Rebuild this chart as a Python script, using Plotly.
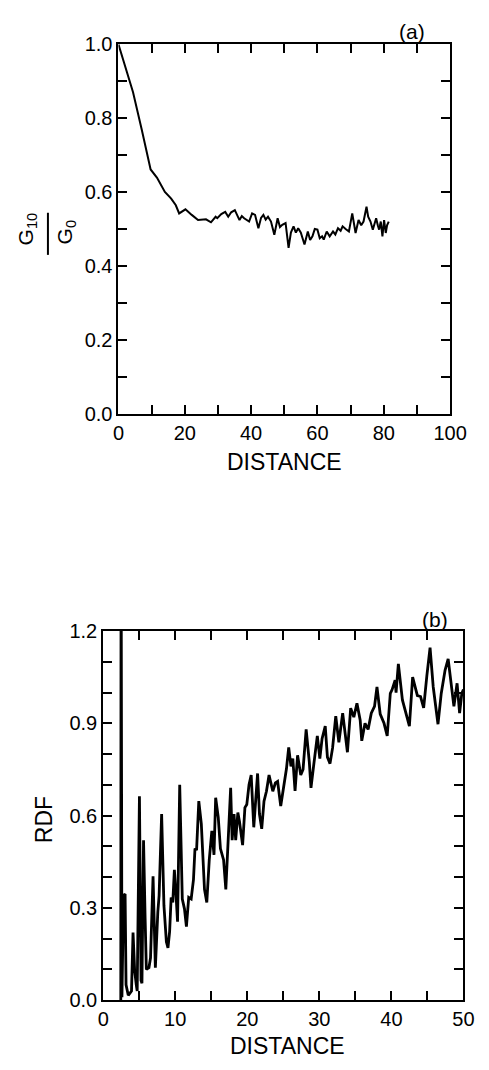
import plotly.graph_objects as go

W, H = 489, 1070

# ---- data: panel (a) ----
dist_a = [0, 2, 4.4, 7, 9.7, 11.6, 14.0, 15.9, 17.3, 18.3, 20.2, 22.1, 24.0, 26.4, 27.9,
          29.3, 29.8, 31, 32.2, 33.1, 34, 35.1, 36.5, 37.2, 37.9, 39.4, 40.3, 41.2, 42.2,
          43.0, 43.7, 44.4, 45.1, 46.0, 47.0, 48.0, 48.7, 49.4, 50.4, 51.3, 52.0, 52.8,
          53.5, 54.2, 55.0, 56.1, 57.1, 57.8, 58.5, 59.2, 60.0, 60.7, 61.4, 61.9, 62.8,
          63.7, 64.7, 65.4, 66.2, 67.0, 67.6, 68.5, 69.5, 70.5, 71.5, 72.4, 73.2, 73.9,
          74.8, 75.3, 76.0, 76.7, 77.7, 78.2, 78.6, 79.1, 79.6, 80.1, 80.6, 81.0, 81.5]
g_ratio = [1.0, 0.94, 0.87, 0.77, 0.661, 0.639, 0.600, 0.582, 0.564, 0.542, 0.553, 0.538,
           0.524, 0.526, 0.518, 0.533, 0.529, 0.54, 0.546, 0.533, 0.545, 0.551, 0.524, 0.535,
           0.529, 0.520, 0.542, 0.538, 0.502, 0.53, 0.538, 0.525, 0.533, 0.52, 0.484, 0.529,
           0.505, 0.511, 0.516, 0.449, 0.49, 0.507, 0.49, 0.502, 0.49, 0.458, 0.493, 0.47,
           0.480, 0.50, 0.498, 0.475, 0.480, 0.471, 0.493, 0.48, 0.493, 0.485, 0.502, 0.495,
           0.507, 0.50, 0.493, 0.542, 0.489, 0.524, 0.51, 0.520, 0.560, 0.533, 0.52, 0.498,
           0.529, 0.51, 0.498, 0.52, 0.480, 0.524, 0.489, 0.51, 0.520]

# ---- data: panel (b) ----
dist_b = [2.44, 2.48, 2.6, 2.82, 3.04, 3.17, 3.48, 3.93, 4.14, 4.37, 4.59, 4.72, 5.03, 5.25,
          5.38, 5.6, 5.82, 5.99, 6.35, 6.57, 6.92, 7.24, 7.58, 7.76, 8.11, 8.43, 8.77, 8.99,
          9.22, 9.43, 9.66, 9.88, 10.09, 10.32, 10.62, 10.98, 11.28, 11.55, 11.87, 12.21,
          12.53, 12.74, 12.96, 13.27, 13.62, 14.06, 14.38, 14.72, 15.08, 15.38, 15.61, 15.97,
          16.27, 16.71, 17.02, 17.37, 17.69, 17.90, 18.16, 18.39, 18.69, 18.92, 19.35, 19.67,
          19.93, 20.24, 20.54, 20.9, 21.2, 21.43, 21.69, 22.0, 22.32, 22.66, 23.02, 23.32,
          23.54, 23.9, 24.21, 24.64, 25.09, 25.44, 25.75, 26.06, 26.32, 26.63, 26.98, 27.42,
          27.74, 28.17, 28.61, 28.84, 29.27, 29.72, 30.07, 30.38, 30.82, 31.12, 31.48, 31.84,
          32.28, 32.71, 33.24, 33.6, 33.9, 34.35, 34.79, 35.22, 35.67, 35.89, 36.34, 36.77,
          37.21, 37.66, 38.0, 38.45, 38.98, 39.42, 39.85, 40.08, 40.52, 40.65, 40.97, 41.53,
          42.16, 42.5, 42.95, 43.61, 44.05, 44.48, 44.93, 45.37, 45.81, 46.47, 46.92, 47.45,
          47.88, 48.32, 48.68, 49.12, 49.47, 49.78, 50.0]
rdf = [0.0, 1.6, 0.01, 0.34, 0.345, 0.05, 0.016, 0.03, 0.22, 0.095, 0.05, 0.03, 0.663, 0.064,
       0.055, 0.52, 0.265, 0.10, 0.106, 0.138, 0.403, 0.106, 0.286, 0.34, 0.605, 0.308, 0.19,
       0.17, 0.223, 0.334, 0.318, 0.424, 0.35, 0.255, 0.70, 0.329, 0.297, 0.239, 0.334, 0.329,
       0.392, 0.493, 0.488, 0.647, 0.573, 0.36, 0.318, 0.456, 0.55, 0.472, 0.658, 0.594,
       0.493, 0.456, 0.36, 0.541, 0.69, 0.52, 0.605, 0.52, 0.61, 0.58, 0.504, 0.626,
       0.636, 0.70, 0.732, 0.562, 0.652, 0.737, 0.605, 0.557, 0.647, 0.679, 0.732, 0.70,
       0.679, 0.706, 0.711, 0.631, 0.70, 0.753, 0.822, 0.76, 0.785, 0.68, 0.796, 0.732,
       0.75, 0.88, 0.774, 0.69, 0.774, 0.859, 0.785, 0.85, 0.891, 0.79, 0.769, 0.82,
       0.923, 0.838, 0.933, 0.87, 0.806, 0.949, 0.92, 0.965, 0.91, 0.843, 0.90, 0.88,
       0.933, 0.955, 1.018, 0.93, 0.90, 0.859, 0.997, 1.008, 1.04, 1.0, 1.093, 0.976,
       0.923, 0.891, 1.05, 0.99, 0.987, 0.95, 1.056, 1.146, 1.018, 0.897, 0.997, 1.072,
       1.109, 1.018, 0.955, 1.03, 0.933, 0.997, 1.01]

FONT = "Liberation Sans"

def px_x(p):
    return p / W

def px_y(p):
    return 1 - p / H

fig = go.Figure()
fig.add_trace(go.Scatter(x=dist_a, y=g_ratio, mode="lines",
                         line=dict(color="black", width=2), xaxis="x", yaxis="y"))
fig.add_trace(go.Scatter(x=dist_b, y=rdf, mode="lines",
                         line=dict(color="black", width=2.8), xaxis="x2", yaxis="y2"))

def axis(rng, dtick, minor, domain, anchor, ticklen=9, **kw):
    d = dict(range=rng, dtick=dtick, tick0=0, domain=domain, anchor=anchor,
             showgrid=False, zeroline=False, showline=True, linecolor="black",
             linewidth=2, mirror="ticks", ticks="inside", ticklen=ticklen,
             tickwidth=2, tickcolor="black",
             minor=dict(dtick=minor, tick0=0, ticks="inside", ticklen=ticklen,
                        tickwidth=2, tickcolor="black", showgrid=False),
             tickfont=dict(family=FONT, size=20, color="black"), fixedrange=True)
    d.update(kw)
    return d

fig.update_layout(
    width=W, height=H, margin=dict(l=0, r=0, t=0, b=0),
    paper_bgcolor="white", plot_bgcolor="white", showlegend=False,
    xaxis=axis([0, 100], 20, 10, [px_x(118), px_x(466)], "y"),
    yaxis=axis([0, 1.0], 0.2, 0.1, [px_y(411), px_y(34)], "x", tickformat=".1f"),
    xaxis2=axis([0, 50], 10, 5, [px_x(102), px_x(480)], "y2"),
    yaxis2=axis([0, 1.2], 0.3, 0.1, [px_y(1010), px_y(633)], "x2", tickformat=".1f"),
)

def ann(text, x, y, size=20, angle=0):
    fig.add_annotation(text=text, x=px_x(x), y=px_y(y), xref="paper", yref="paper",
                       showarrow=False, textangle=angle, xanchor="center", yanchor="middle",
                       font=dict(family=FONT, size=size, color="black"))

ann("(a)", 426, 21, size=21)
ann("(b)", 450, 621, size=21)
ann("DISTANCE", 292, 460, size=23)
ann("DISTANCE", 295, 1057, size=23)
ann("RDF", 40, 826, size=23, angle=-90)
ann("G<sub>10</sub>", 22, 222, size=21, angle=-90)
ann("G<sub>0</sub>", 63, 226, size=21, angle=-90)
fig.add_shape(type="line", xref="paper", yref="paper",
              x0=px_x(44), x1=px_x(44), y0=px_y(206), y1=px_y(249),
              line=dict(color="black", width=2))

fig.write_html("out.html", config={"displayModeBar": False},
               post_script="document.body.style.margin='0';document.body.style.overflow='hidden';")
